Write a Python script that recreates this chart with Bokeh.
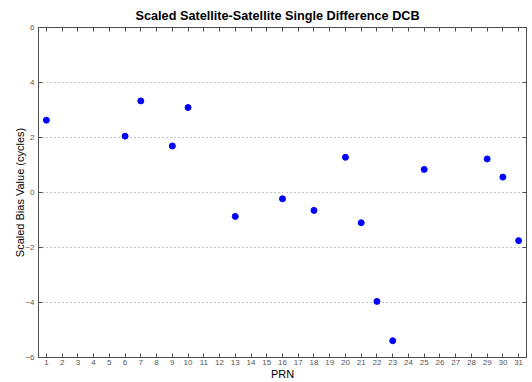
from bokeh.plotting import figure
from bokeh.models import LinearAxis, FixedTicker, Range1d, CustomJSTickFormatter
from bokeh.embed import file_html
from bokeh.resources import INLINE

prn = [1, 6, 7, 9, 10, 13, 16, 18, 20, 21, 22, 23, 25, 29, 30, 31]
bias = [2.63, 2.05, 3.33, 1.69, 3.09, -0.87, -0.23, -0.65, 1.28, -1.10, -3.96, -5.39, 0.84, 1.22, 0.56, -1.75]
x_ticks = list(range(1, 32))
y_ticks = [-6, -4, -2, 0, 2, 4, 6]
title_text = "Scaled Satellite-Satellite Single Difference DCB"
x_label = "PRN"
y_label = "Scaled Bias Value (cycles)"

FONT = "Liberation Sans"
AX_COLOR = "#4d4d4d"
TICK_LABEL_COLOR = "#555555"

p = figure(width=532, height=382, output_backend="svg", toolbar_location=None,
           x_range=Range1d(0.5, 31.5), y_range=Range1d(-6, 6),
           x_axis_location=None, y_axis_location=None,
           min_border_left=38, min_border_right=6, min_border_top=27, min_border_bottom=25)

p.title.text = title_text
p.title.align = "left"
p.title.offset = 97
p.title.text_font = FONT
p.title.text_font_size = "12.7px"
p.title.text_font_style = "bold"
p.title.text_color = "black"
p.title.standoff = 9

def style_axis(ax, labels=True):
    ax.axis_line_color = AX_COLOR
    ax.major_tick_line_color = AX_COLOR
    ax.major_tick_in = 4
    ax.major_tick_out = 0
    ax.minor_tick_line_color = None
    ax.major_label_text_font = FONT
    ax.major_label_text_font_size = "8px" if labels else "1px"
    ax.major_label_text_color = TICK_LABEL_COLOR
    ax.major_label_standoff = 4 if labels else 0
    ax.axis_label_text_font = FONT
    ax.axis_label_text_font_size = "11px"
    ax.axis_label_text_font_style = "normal"
    ax.axis_label_text_color = "black"
    ax.axis_label_standoff = 2
    if not labels:
        ax.formatter = CustomJSTickFormatter(code="return ''")

xb = LinearAxis(ticker=FixedTicker(ticks=x_ticks), axis_label=x_label)
style_axis(xb)
xb.major_label_standoff = 2
xb.axis_label_standoff = 0
p.add_layout(xb, "below")
yl = LinearAxis(ticker=FixedTicker(ticks=y_ticks), axis_label=y_label)
style_axis(yl)
yl.axis_label_standoff = -4
p.add_layout(yl, "left")
xt = LinearAxis(ticker=FixedTicker(ticks=x_ticks))
style_axis(xt, labels=False)
p.add_layout(xt, "above")
yr = LinearAxis(ticker=FixedTicker(ticks=y_ticks))
style_axis(yr, labels=False)
p.add_layout(yr, "right")

p.xgrid.visible = False
p.ygrid.ticker = FixedTicker(ticks=y_ticks)
p.ygrid.grid_line_color = "#8c8c8c"
p.ygrid.grid_line_dash = "1 3"
p.ygrid.grid_line_width = 1
p.outline_line_color = AX_COLOR

p.scatter(prn, bias, size=6, color="#0000ff", marker="circle")

open("out.html", "w").write(file_html(p, INLINE))
